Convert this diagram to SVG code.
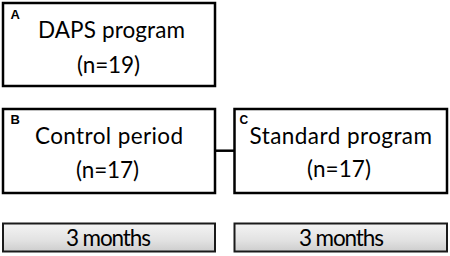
<svg xmlns="http://www.w3.org/2000/svg" width="450" height="256" viewBox="0 0 450 256">
<defs>
<linearGradient id="barFill" x1="0" y1="0" x2="0" y2="1">
<stop offset="0" stop-color="#f4f4f4"/>
<stop offset="0.6" stop-color="#e2e2e2"/>
<stop offset="1" stop-color="#cdcdcd"/>
</linearGradient>
</defs>
<style>
.box{fill:#ffffff;stroke:#000000;stroke-width:2.5}
.bar{fill:url(#barFill);stroke:#1a1a1a;stroke-width:2}
.t{font-family:Lato,"Open Sans","Liberation Sans",sans-serif;font-size:22.5px;fill:#000000}
.lab{font-family:"Liberation Sans",Arial,sans-serif;font-weight:bold;font-size:13px;fill:#000000}
.conn{stroke:#000000;stroke-width:2.5;fill:none}
</style>
<rect width="450" height="256" fill="#ffffff"/>
<g id="connectors">
<line class="conn" x1="215" y1="150.7" x2="234.5" y2="150.7"/>
</g>
<g id="nodeA">
<rect class="box" x="3" y="3" width="212" height="83"/>
<text class="lab" x="10.5" y="19">A</text>
<text class="t" x="38" y="37.5" textLength="147">DAPS program</text>
<text class="t" x="77" y="72.5" textLength="63">(n=19)</text>
</g>
<g id="nodeB">
<rect class="box" x="3" y="109" width="212" height="84"/>
<text class="lab" x="10.5" y="124">B</text>
<text class="t" x="35" y="144" textLength="148">Control period</text>
<text class="t" x="76" y="177.5" textLength="63">(n=17)</text>
</g>
<g id="nodeC">
<rect class="box" x="234.5" y="109" width="212.5" height="84"/>
<text class="lab" x="239.5" y="123.5" style="font-size:12px">C</text>
<text class="t" x="249.5" y="144" textLength="182.5">Standard program</text>
<text class="t" x="307" y="177" textLength="64">(n=17)</text>
</g>
<g id="bar1">
<rect class="bar" x="3" y="223.5" width="212" height="28"/>
<text class="t" x="66" y="246" textLength="85">3 months</text>
</g>
<g id="bar2">
<rect class="bar" x="234.5" y="223.5" width="212.5" height="28"/>
<text class="t" x="299" y="246" textLength="85">3 months</text>
</g>
</svg>
